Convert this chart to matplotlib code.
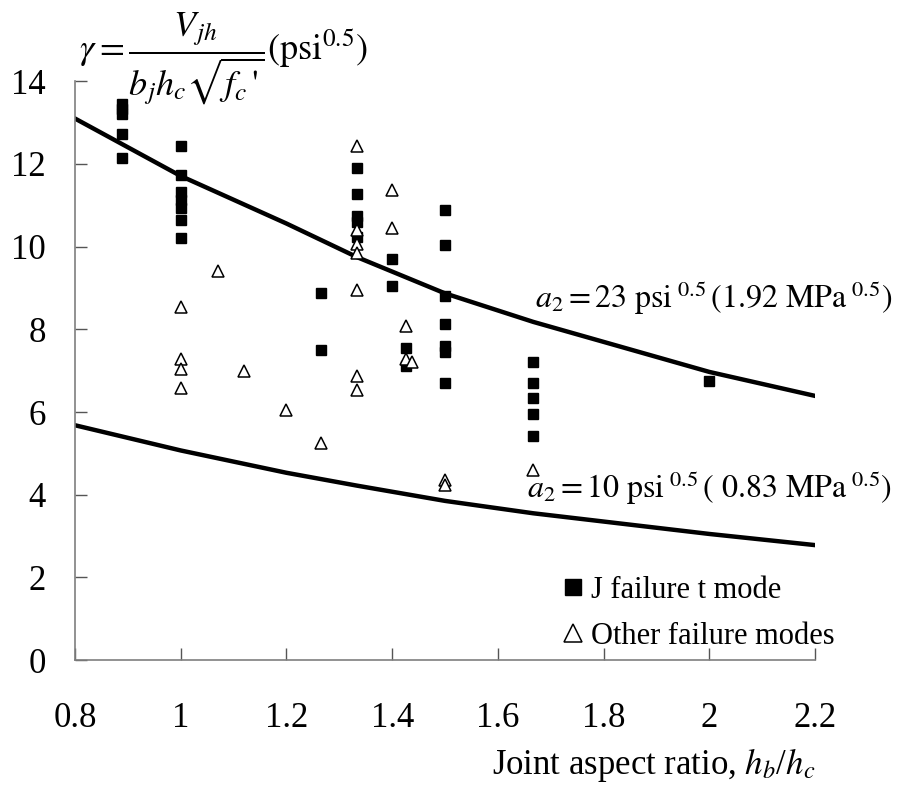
import numpy as np
import matplotlib
matplotlib.use('Agg')
import matplotlib.pyplot as plt

plt.rcParams['font.family'] = ['Liberation Serif', 'DejaVu Serif']
plt.rcParams['mathtext.fontset'] = 'stix'

# design curves (gamma vs hb/hc)
curve_x = [0.8, 1.0, 1.2, 1.333, 1.5, 1.667, 2.0, 2.2]
curve_23 = [13.1, 11.71, 10.56, 9.75, 8.87, 8.18, 6.97, 6.39]
curve_10 = [5.68, 5.07, 4.53, 4.22, 3.85, 3.55, 3.05, 2.78]

# joint failure specimens
j_x = [0.889, 0.889, 0.889, 0.889, 0.889,
       1.0, 1.0, 1.0, 1.0, 1.0, 1.0, 1.0,
       1.265, 1.265,
       1.333, 1.333, 1.333, 1.333, 1.333,
       1.4, 1.4,
       1.427, 1.427,
       1.5, 1.5, 1.5, 1.5, 1.5, 1.5, 1.5,
       1.667, 1.667, 1.667, 1.667, 1.667,
       2.0]
j_y = [13.45, 13.32, 13.2, 12.73, 12.15,
       12.43, 11.73, 11.32, 11.12, 10.93, 10.64, 10.21,
       8.87, 7.51,
       11.91, 11.28, 10.73, 10.59, 10.23,
       9.69, 9.04,
       7.54, 7.11,
       10.88, 10.03, 8.8, 8.14, 7.59, 7.45, 6.69,
       7.21, 6.7, 6.33, 5.95, 5.42,
       6.75]

# other failure modes
o_x = [1.0, 1.0, 1.0, 1.0,
       1.07, 1.12, 1.2, 1.265,
       1.333, 1.333, 1.333, 1.333, 1.333, 1.333, 1.333,
       1.4, 1.4,
       1.427, 1.427, 1.438,
       1.5, 1.5,
       1.667]
o_y = [8.54, 7.29, 7.05, 6.58,
       9.4, 6.99, 6.06, 5.24,
       12.43, 10.4, 10.07, 9.85, 8.95, 6.87, 6.53,
       11.38, 10.46,
       8.08, 7.29, 7.21,
       4.35, 4.23,
       4.59]

fig = plt.figure(figsize=(8.98, 7.88), dpi=100)
ax = fig.add_axes([0.0835, 0.1624, 0.8241, 0.7344])

ax.plot(curve_x, curve_23, color='black', lw=3.2)
ax.plot(curve_x, curve_10, color='black', lw=3.2)
ax.plot(j_x, j_y, 's', color='black', ms=7, label='J failure t mode')
ax.plot(o_x, o_y, '^', mfc='white', mec='black', mew=1.1, ms=8,
        label='Other failure modes')

ax.set_xlim(0.8, 2.2)
ax.set_ylim(0, 14)
ax.set_xticks(np.arange(0.8, 2.21, 0.2))
ax.set_xticklabels(['0.8', '1', '1.2', '1.4', '1.6', '1.8', '2', '2.2'])
ax.set_yticks(range(0, 15, 2))

for s in ['top', 'right']:
    ax.spines[s].set_visible(False)
for s in ['left', 'bottom']:
    ax.spines[s].set_color('#7f7f7f')
    ax.spines[s].set_linewidth(1.2)
ax.tick_params(axis='both', direction='in', length=8.5, width=1.0,
               color='#555555', labelsize=25)
ax.tick_params(axis='x', pad=30)
ax.tick_params(axis='y', pad=21)

fig.text(0.088, 0.926,
         r"$\gamma = \dfrac{V_{jh}}{b_j h_c \sqrt{f_c\,\text{'}}}(\mathrm{psi}^{0.5})$",
         fontsize=26, ha='left', va='center')

ax.text(2.346, 8.75,
        r"$a_2 = 23\ \mathrm{psi}^{\ 0.5}\,(1.92\ \mathrm{MPa}^{\ 0.5})$",
        fontsize=23, ha='right', va='center')
ax.text(2.346, 4.16,
        r"$a_2 = 10\ \mathrm{psi}^{\ 0.5}\,(\ 0.83\ \mathrm{MPa}^{\ 0.5})$",
        fontsize=23, ha='right', va='center')

ax.set_xlabel(r"Joint aspect ratio, $h_b$/$h_c$", fontsize=25, ha='right',
              x=1.0, labelpad=8)

ax.legend(loc='lower left', bbox_to_anchor=(0.641, -0.01), frameon=False,
          fontsize=22, markerscale=1.7, handlelength=0.55, handletextpad=0.3,
          labelspacing=0.55, borderpad=0)

fig.savefig('out.png', dpi=100)
